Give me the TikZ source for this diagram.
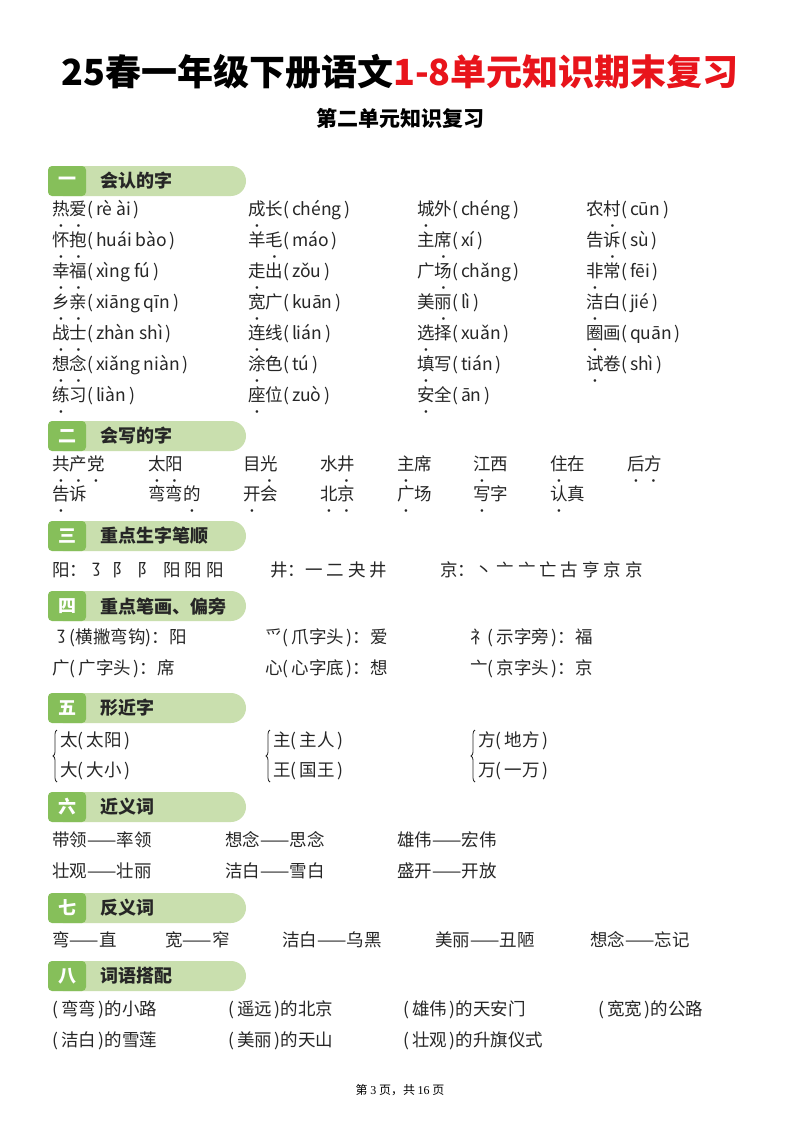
\documentclass[tikz,border=0pt]{standalone}
\usepackage{fontspec}
\setmainfont{Noto Sans CJK SC}
\newfontfamily\footfont{Liberation Serif}
\usetikzlibrary{decorations.pathreplacing}
\definecolor{lightg}{HTML}{C9DFAE}
\definecolor{darkg}{HTML}{86BF5A}
\definecolor{titlered}{HTML}{E8141B}
\definecolor{ink}{HTML}{262626}
\newcommand\dotc[1]{\leavevmode\rlap{\makebox[1em]{\raisebox{-0.7em}{\fontsize{6}{6}\selectfont$\bullet$}}}#1}
\newcommand\py[1]{(\,#1\,)}
\tikzset{
  item/.style={anchor=west, inner sep=0pt, text=ink, font=\fontsize{17.5}{20}\selectfont},
  headtxt/.style={anchor=west, inner sep=0pt, text=ink, font=\fontsize{18}{20}\selectfont\bfseries},
  numtxt/.style={inner sep=0pt, text=white, font=\fontsize{18}{20}\selectfont\bfseries},
}
% section head: y, numeral, title, name
\newcommand\sechead[4]{%
  \fill[lightg, rounded corners=15pt] (48,#1-15) rectangle (246,#1+15);
  \fill[darkg, rounded corners=4pt] (48,#1-15) rectangle (86,#1+15);
  \node[numtxt] (#4n) at (67,#1) {#2};
  \node[headtxt] (#4) at (100,#1) {#3};
}
\begin{document}
\begin{tikzpicture}[x=1pt,y=-1pt]
  \useasboundingbox (0,0) rectangle (800,1132);
  \fill[white] (0,0) rectangle (800,1132);

  % title
  \node (title) at (400,72) {\fontsize{36}{40}\selectfont\bfseries 25春一年级下册语文\textcolor{titlered}{1-8单元知识期末复习}};
  \node (subtitle) at (400,118) {\fontsize{21}{24}\selectfont\bfseries 第二单元知识复习};

  % one
  \sechead{181}{一}{会认的字}{s1}
  \foreach \t [count=\i] in {{\dotc{热}\dotc{爱}\py{rè ài}},{\dotc{怀}\dotc{抱}\py{huái bào}},{\dotc{幸}\dotc{福}\py{xìng fú}},
      {\dotc{乡}\dotc{亲}\py{xiāng qīn}},{\dotc{战}\dotc{士}\py{zhàn shì}},{\dotc{想}\dotc{念}\py{xiǎng niàn}},{\dotc{练}习\py{liàn}}}
    \node[item] (a\i) at (52,{214+31*(\i-1)}) {\t};
  \foreach \t [count=\i] in {{\dotc{成}长\py{chéng}},{羊\dotc{毛}\py{máo}},{\dotc{走}出\py{zǒu}},
      {\dotc{宽}广\py{kuān}},{\dotc{连}线\py{lián}},{\dotc{涂}色\py{tú}},{\dotc{座}位\py{zuò}}}
    \node[item] (b\i) at (248,{214+31*(\i-1)}) {\t};
  \foreach \t [count=\i] in {{\dotc{城}外\py{chéng}},{主\dotc{席}\py{xí}},{广\dotc{场}\py{chǎng}},
      {美\dotc{丽}\py{lì}},{\dotc{选}择\py{xuǎn}},{\dotc{填}写\py{tián}},{\dotc{安}全\py{ān}}}
    \node[item] (c\i) at (417,{214+31*(\i-1)}) {\t};
  \foreach \t [count=\i] in {{农\dotc{村}\py{cūn}},{告\dotc{诉}\py{sù}},{\dotc{非}常\py{fēi}},
      {\dotc{洁}白\py{jié}},{\dotc{圈}画\py{quān}},{\dotc{试}卷\py{shì}}}
    \node[item] (d\i) at (586,{214+31*(\i-1)}) {\t};

  % two
  \sechead{436}{二}{会写的字}{s2}
  \foreach \t/\x [count=\i] in {{\dotc{共}\dotc{产}\dotc{党}}/52,{\dotc{太}\dotc{阳}}/148,{目\dotc{光}}/243,{水\dotc{井}}/320,
      {\dotc{主}席}/397,{\dotc{江}西}/473,{\dotc{住}在}/550,{\dotc{后}\dotc{方}}/627}
    \node[item] (e\i) at (\x,469) {\t};
  \foreach \t/\x [count=\i] in {{\dotc{告}诉}/52,{弯弯\dotc{的}}/148,{\dotc{开}会}/243,{\dotc{北}\dotc{京}}/320,
      {\dotc{广}场}/397,{\dotc{写}字}/473,{\dotc{认}真}/550}
    \node[item] (f\i) at (\x,499) {\t};

  % three
  \sechead{536}{三}{重点生字笔顺}{s3}
  \node[item] (g1) at (52,570) {阳：㇌\ \ 阝\ \ 阝\ \ 阳 阳 阳};
  \node[item] (g2) at (270,570) {井：一\ 二\ 夬\ 井};
  \node[item] (g3) at (440,570) {京：丶\ 亠\ 亠\ 亡\ 古\ 亨\ 京\ 京};

  % four
  \sechead{606}{四}{重点笔画、偏旁}{s4}
  \node[item] (h1) at (52,638) {㇌(横撇弯钩)：阳};
  \node[item] (h2) at (265,638) {爫(\,爪字头\,)：爱};
  \node[item] (h3) at (470,638) {礻(\,示字旁\,)：福};
  \node[item] (h4) at (52,669) {广(\,广字头\,)：席};
  \node[item] (h5) at (265,669) {心(\,心字底\,)：想};
  \node[item] (h6) at (470,669) {亠(\,京字头\,)：京};

  % five
  \sechead{708}{五}{形近字}{s5}
  \foreach \x/\ta/\tb [count=\i] in {52/太(\,太阳\,)/大(\,大小\,),265/主(\,主人\,)/王(\,国王\,),470/方(\,地方\,)/万(\,一万\,)}{
    \node[item] (p\i) at (\x+8,741) {\ta};
    \node[item] (q\i) at (\x+8,771) {\tb};
    \draw[ink, line width=0.8pt, decorate, decoration={brace, amplitude=4pt}]
      (\x+5,782) -- (\x+5,730);
  }

  % six
  \sechead{807}{六}{近义词}{s6}
  \node[item] (k1) at (52,840) {带领——率领};
  \node[item] (k2) at (225,840) {想念——思念};
  \node[item] (k3) at (397,840) {雄伟——宏伟};
  \node[item] (k4) at (52,871) {壮观——壮丽};
  \node[item] (k5) at (225,871) {洁白——雪白};
  \node[item] (k6) at (397,871) {盛开——开放};

  % seven
  \sechead{908}{七}{反义词}{s7}
  \foreach \t/\x [count=\i] in {弯——直/52,宽——窄/165,洁白——乌黑/282,美丽——丑陋/435,想念——忘记/590}
    \node[item] (m\i) at (\x,940) {\t};

  % eight
  \sechead{976}{八}{词语搭配}{s8}
  \foreach \t/\x [count=\i] in {(\,弯弯\,)的小路/52,(\,遥远\,)的北京/228,(\,雄伟\,)的天安门/403,(\,宽宽\,)的公路/598}
    \node[item] (r\i) at (\x,1010) {\t};
  \foreach \t/\x [count=\i] in {(\,洁白\,)的雪莲/52,(\,美丽\,)的天山/228,(\,壮观\,)的升旗仪式/403}
    \node[item] (t\i) at (\x,1041) {\t};

  % footer
  \node (foot) at (400,1090) {\fontsize{12}{14}\selectfont 第 {\footfont 3} 页，共 {\footfont 16} 页};
\end{tikzpicture}
\end{document}
